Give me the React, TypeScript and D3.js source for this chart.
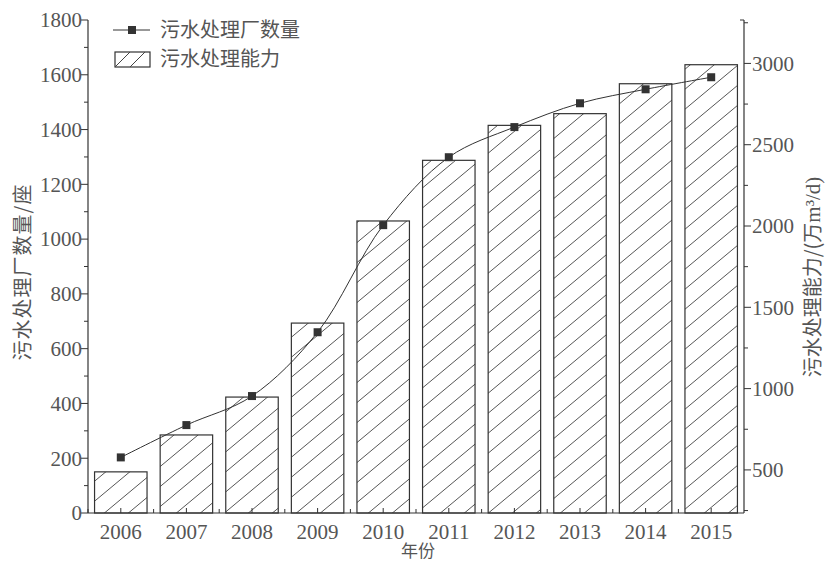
import React from "react";
import * as d3 from "d3";

const years = ["2006", "2007", "2008", "2009", "2010", "2011", "2012", "2013", "2014", "2015"];
const plantCount = [203, 321, 427, 660, 1051, 1299, 1409, 1496, 1547, 1591];
const capacity = [488, 715, 948, 1403, 2031, 2404, 2619, 2691, 2875, 2992];
const leftTicks = [0, 200, 400, 600, 800, 1000, 1200, 1400, 1600, 1800];
const rightTicks = [500, 1000, 1500, 2000, 2500, 3000];
const legendLabels = ["污水处理厂数量", "污水处理能力"];

const W = 829, H = 565;
const L = 88, R = 744, T = 20, B = 513;
const ink = "#333";
const txt = "#555";
const serif = "'Liberation Serif', 'DejaVu Serif', serif";
const cjk = "'Noto Sans CJK SC', sans-serif";

export default function App() {
  const x = d3.scaleBand<string>().domain(years).range([L, R]).paddingInner(0.2).paddingOuter(0.1);
  const xb = d3.scaleBand<string>().domain(years).range([L, R]);
  const yL = d3.scaleLinear().domain([0, 1800]).range([B, T]);
  const yR = d3.scaleLinear().domain([235, 3267]).range([B, T]);
  const line = d3.line<number>()
    .x((_, i) => (x(years[i]) as number) + x.bandwidth() / 2)
    .y((d) => yL(d))
    .curve(d3.curveCatmullRom.alpha(0.5));
  const leftMinor = d3.range(100, 1800, 200);
  const rightMinor = d3.range(250, 3267, 500).filter((v) => v >= 235);

  return (
    <svg width={W} height={H} style={{ position: "absolute", left: 0, top: 0, background: "#fff" }}>
      <defs>
        <pattern id="hatch" patternUnits="userSpaceOnUse" width={24} height={20}>
          <path d="M0,20 L24,0 M-3,2.5 L3,-2.5 M21,22.5 L27,17.5" stroke="#555" strokeWidth={1} fill="none" />
        </pattern>
      </defs>
      {capacity.map((v, i) => (
        <rect key={years[i]} x={x(years[i])} y={yR(v)} width={x.bandwidth()} height={B - yR(v)}
          fill="url(#hatch)" stroke={ink} strokeWidth={1.2} />
      ))}
      <path d={line(plantCount) || ""} fill="none" stroke={ink} strokeWidth={1} />
      {plantCount.map((v, i) => (
        <rect key={"m" + i} x={(x(years[i]) as number) + x.bandwidth() / 2 - 4} y={yL(v) - 4} width={8} height={8} fill="#333" />
      ))}
      <line x1={L} x2={L} y1={T} y2={B} stroke={ink} strokeWidth={1.2} />
      <line x1={R} x2={R} y1={T} y2={B} stroke={ink} strokeWidth={1.2} />
      <line x1={L} x2={R} y1={B} y2={B} stroke={ink} strokeWidth={1.2} />
      {leftTicks.map((t) => (
        <g key={"l" + t}>
          <line x1={L - 7} x2={L} y1={yL(t)} y2={yL(t)} stroke={ink} />
          <text x={L - 6} y={yL(t)} dy="0.35em" textAnchor="end" fontFamily={serif} fontSize={21} fill={txt}>{t}</text>
        </g>
      ))}
      {leftMinor.map((t) => (
        <line key={"lm" + t} x1={L - 4} x2={L} y1={yL(t)} y2={yL(t)} stroke={ink} />
      ))}
      {rightTicks.map((t) => (
        <g key={"r" + t}>
          <line x1={R} x2={R + 7} y1={yR(t)} y2={yR(t)} stroke={ink} />
          <text x={R + 8} y={yR(t)} dy="0.35em" textAnchor="start" fontFamily={serif} fontSize={21} fill={txt}>{t}</text>
        </g>
      ))}
      {rightMinor.map((t) => (
        <line key={"rm" + t} x1={R} x2={R + 4} y1={yR(t)} y2={yR(t)} stroke={ink} />
      ))}
      <line x1={R - 4} x2={R} y1={T} y2={T} stroke={ink} />
      {years.map((yv) => (
        <g key={"x" + yv}>
          <line x1={(x(yv) as number) + x.bandwidth() / 2} x2={(x(yv) as number) + x.bandwidth() / 2} y1={B} y2={B - 5} stroke={ink} />
          <line x1={xb(yv) as number} x2={xb(yv) as number} y1={B} y2={B - 4} stroke={ink} />
          <text x={(x(yv) as number) + x.bandwidth() / 2} y={539} textAnchor="middle" fontFamily={serif} fontSize={21} fill={txt}>{yv}</text>
        </g>
      ))}
      <text x={418} y={557} textAnchor="middle" fontFamily={cjk} fontSize={17} fill={txt}>年份</text>
      <text transform="translate(30,272) rotate(-90)" textAnchor="middle" fontFamily={cjk} fontSize={20} fill={txt} letterSpacing={1}>污水处理厂数量/座</text>
      <text transform="translate(820,277) rotate(-90)" textAnchor="middle" fontFamily={cjk} fontSize={20} fill={txt}>
        污水处理能力/(万<tspan fontFamily={serif} fontSize={21}>m³/d)</tspan>
      </text>
      <line x1={113} x2={150} y1={30} y2={30} stroke={ink} strokeWidth={1} />
      <rect x={128} y={26} width={8} height={8} fill="#333" />
      <text x={160} y={30} dy="0.35em" fontFamily={cjk} fontSize={20} fill={txt}>{legendLabels[0]}</text>
      <rect x={115} y={52} width={35} height={15} fill="none" stroke={ink} strokeWidth={1.2} />
      <path d="M115,67 L130,52 M130,67 L145,52" stroke="#444" strokeWidth={1} />
      <text x={160} y={59} dy="0.35em" fontFamily={cjk} fontSize={20} fill={txt}>{legendLabels[1]}</text>
    </svg>
  );
}
